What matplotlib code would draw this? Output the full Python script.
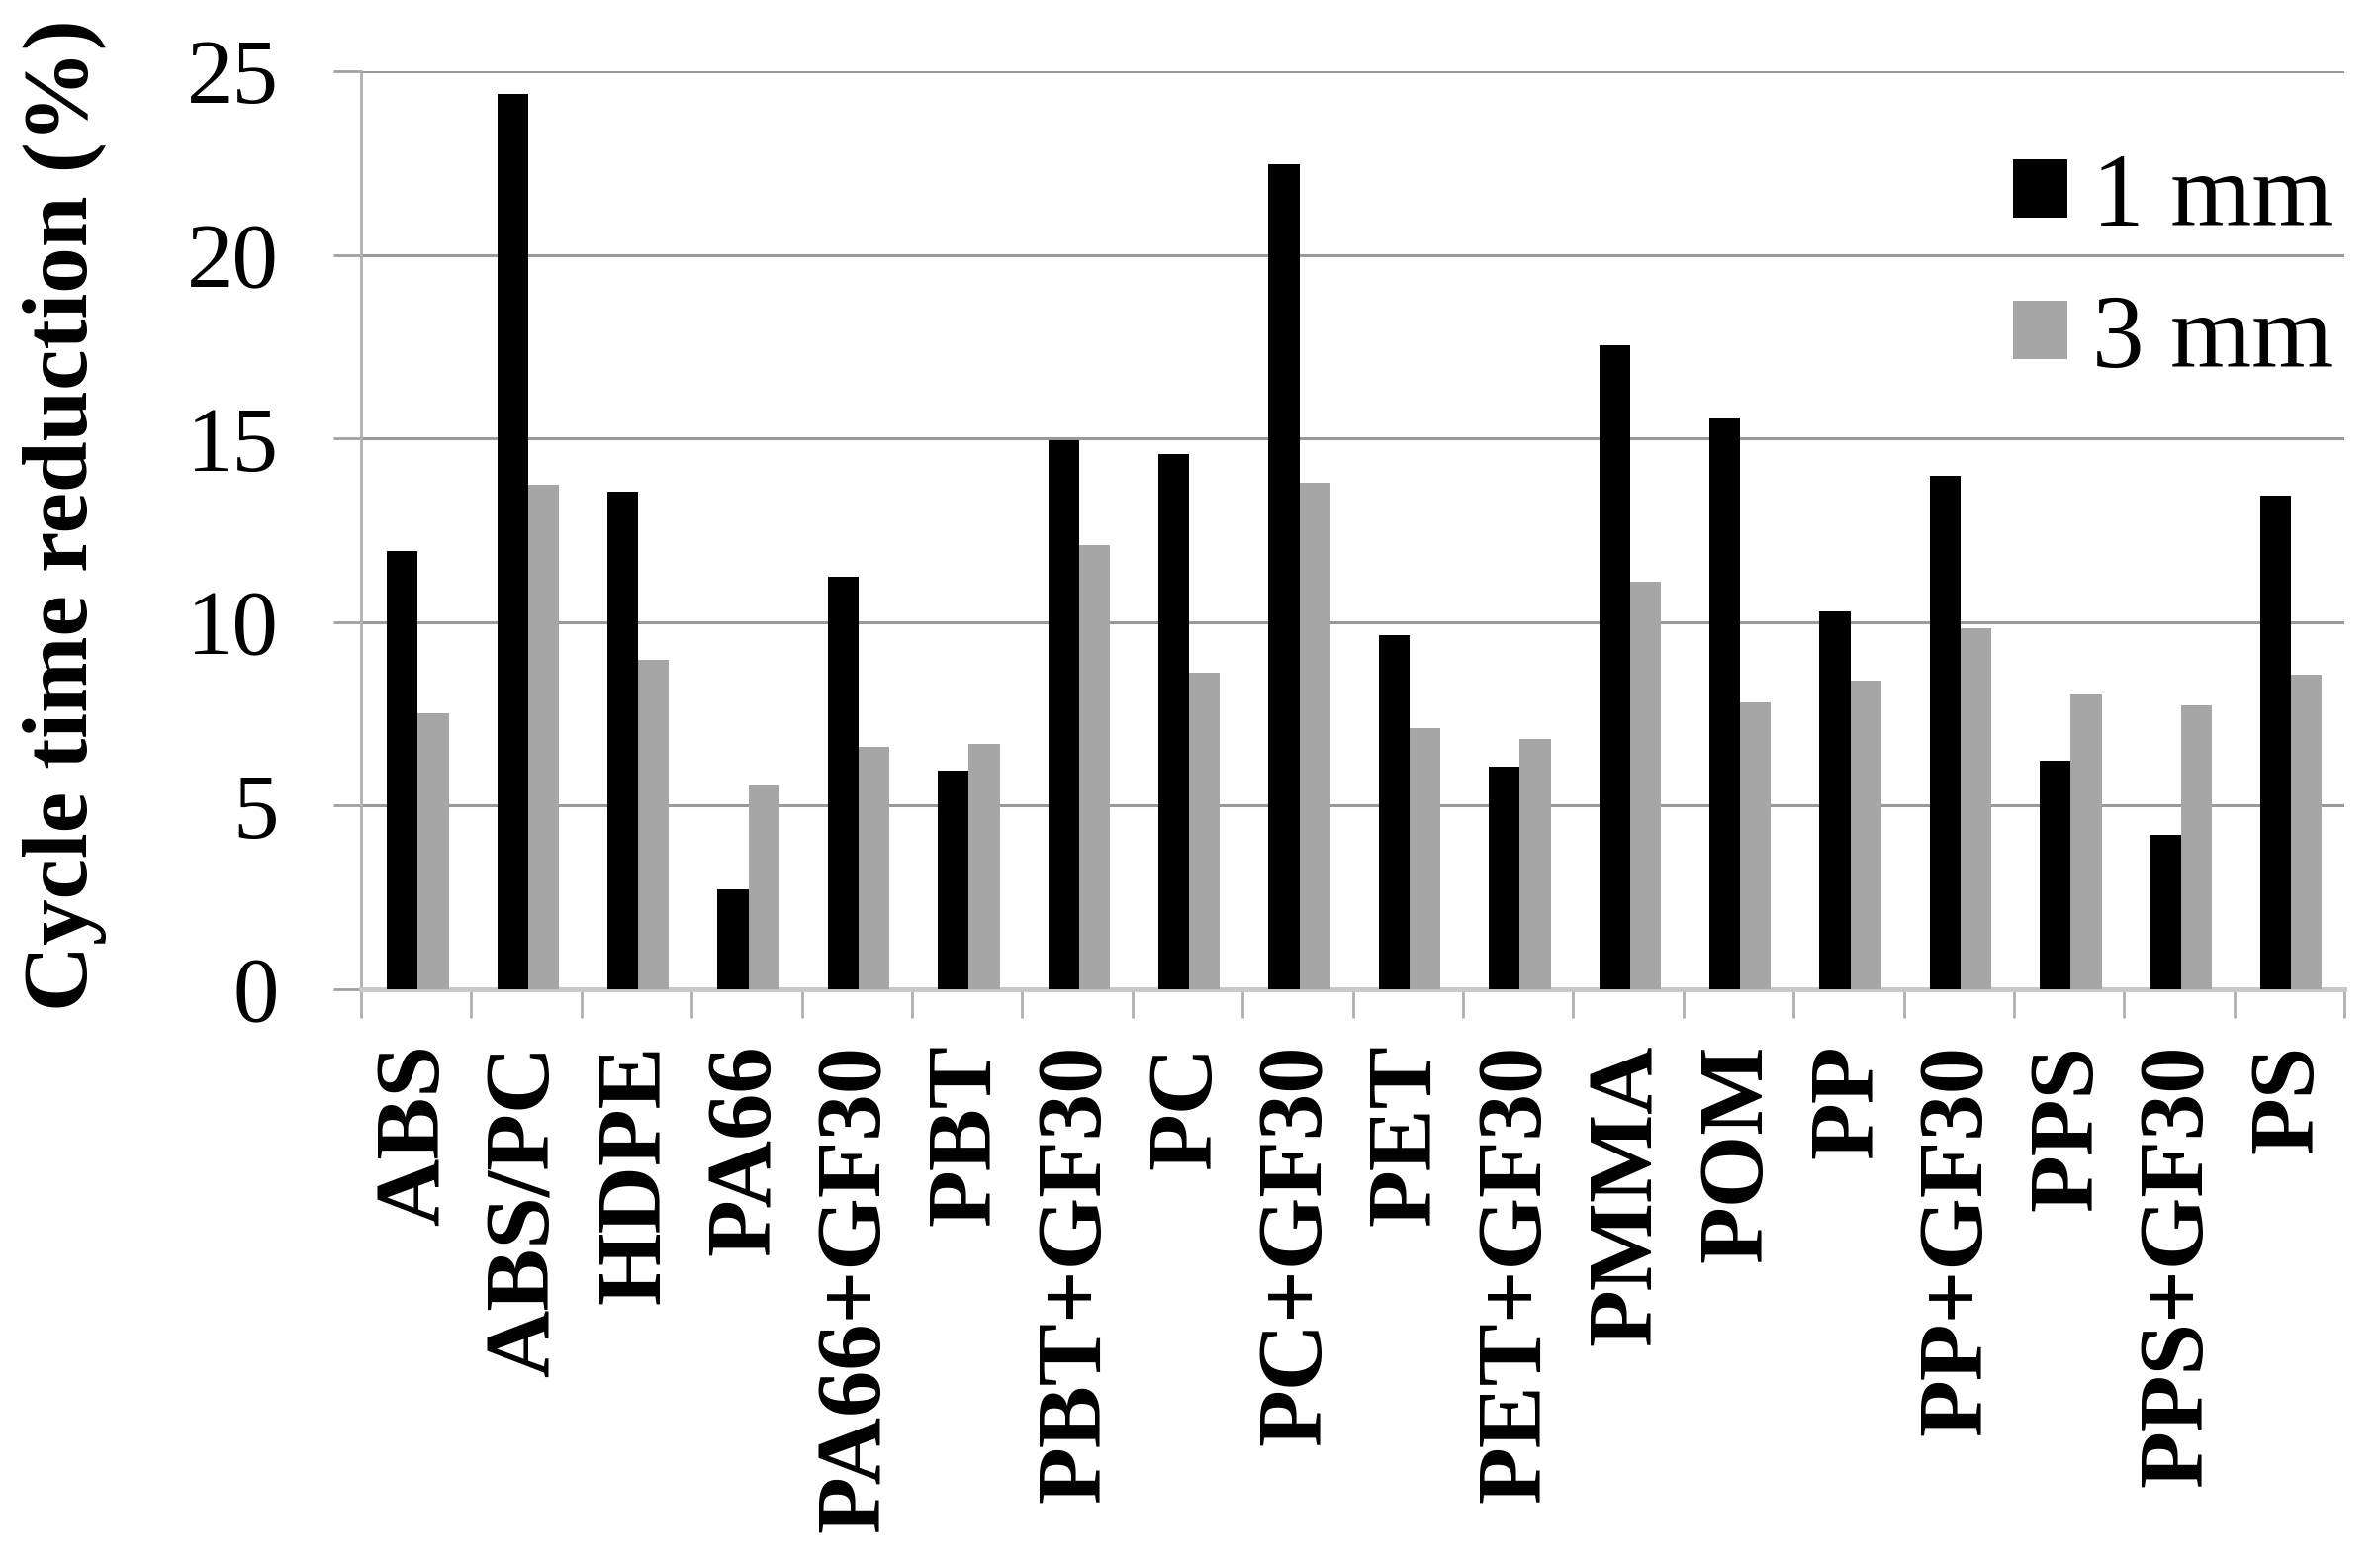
import numpy as np
import matplotlib
matplotlib.use("Agg")
import matplotlib.pyplot as plt

# data
materials = ["ABS", "ABS/PC", "HDPE", "PA66", "PA66+GF30", "PBT", "PBT+GF30",
             "PC", "PC+GF30", "PET", "PET+GF30", "PMMA", "POM", "PP",
             "PP+GF30", "PPS", "PPS+GF30", "PS"]
red_1mm = [11.93, 24.38, 13.55, 2.71, 11.22, 5.95, 14.94, 14.58, 22.48,
           9.65, 6.07, 17.55, 15.54, 10.28, 13.98, 6.23, 4.20, 13.45]
red_3mm = [7.52, 13.75, 8.96, 5.54, 6.61, 6.69, 12.10, 8.63, 13.80,
           7.11, 6.81, 11.11, 7.80, 8.41, 9.83, 8.02, 7.74, 8.56]
series_labels = ["1 mm", "3 mm"]
y_ticks = [0, 5, 10, 15, 20, 25]

plt.rcParams["font.family"] = ["Liberation Serif", "DejaVu Serif"]

fig = plt.figure(figsize=(24.05, 15.85), dpi=100)
ax = fig.add_axes([0.1518, 0.3691, 0.8337, 0.5855])

x = np.arange(len(materials))
w = 0.28
b1 = ax.bar(x - 0.125, red_1mm, w, color="black", label=series_labels[0], zorder=3)
b2 = ax.bar(x + 0.155, red_3mm, w, color="#a6a6a6", label=series_labels[1], zorder=3)

ax.set_xlim(-0.5, len(materials) - 0.5)
ax.set_ylim(0, 25)
ax.set_yticks(y_ticks)
ax.yaxis.grid(True, color="#999999", linewidth=2.2)
ax.set_axisbelow(True)

for s in ["top", "right"]:
    ax.spines[s].set_visible(False)
ax.spines["left"].set_color("#b0b0b0")
ax.spines["left"].set_linewidth(2.0)
ax.spines["bottom"].set_color("#c8c8c8")
ax.spines["bottom"].set_linewidth(3.5)

ax.tick_params(axis="y", length=20, width=2, color="#a0a0a0", pad=40,
               labelsize=67)

ax.set_xticks(x)
ax.set_xticklabels(materials, rotation=90, fontsize=68, fontweight="bold")
ax.set_xticks(np.arange(-0.5, len(materials), 1), minor=True)
ax.tick_params(axis="x", which="major", length=0, pad=40)
ax.tick_params(axis="x", which="minor", length=21, width=2, color="#b0b0b0")

fig.text(66 / 2405, 1 - 521 / 1585, "Cycle time reduction (%)", rotation=90,
         ha="center", va="center", fontsize=67, fontweight="bold")

ax.legend(handles=[b1, b2], labels=series_labels, frameon=False,
          prop={"size": 76}, handlelength=0.53, handleheight=0.49,
          handletextpad=0.23, labelspacing=0.44, borderpad=0,
          borderaxespad=0, loc="upper right",
          bbox_to_anchor=(0.9805, 0.9026), bbox_transform=fig.transFigure)

fig.savefig("out.png", dpi=100)
